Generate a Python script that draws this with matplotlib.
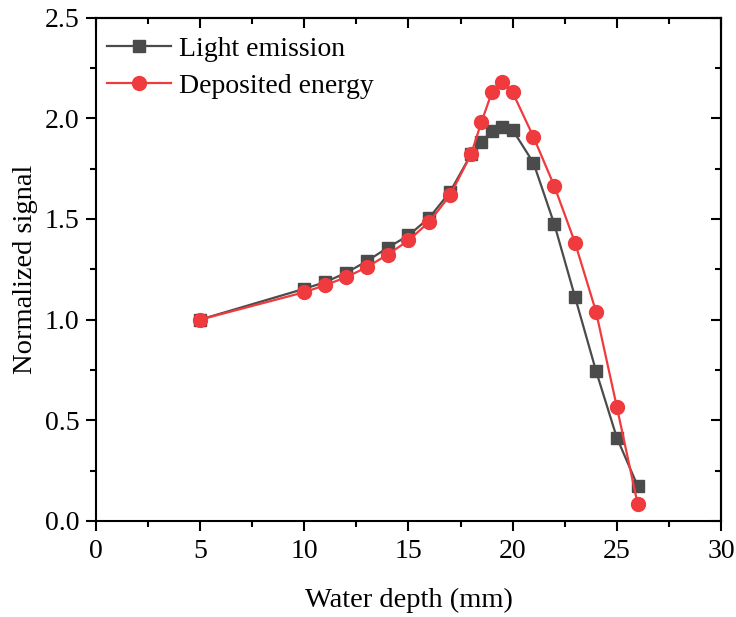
import matplotlib
matplotlib.use("Agg")
import matplotlib.pyplot as plt
from matplotlib.ticker import MultipleLocator, FormatStrFormatter

plt.rcParams['font.family'] = ['Liberation Serif', 'DejaVu Serif']
plt.rcParams['mathtext.fontset'] = 'stix'

depth = [5, 10, 11, 12, 13, 14, 15, 16, 17, 18, 18.5, 19, 19.5, 20, 21, 22, 23, 24, 25, 26]
light = [1.0, 1.153, 1.186, 1.232, 1.29, 1.357, 1.418, 1.506, 1.635, 1.82, 1.882, 1.937, 1.954, 1.942,
         1.778, 1.474, 1.11, 0.746, 0.414, 0.174]
energy = [1.0, 1.136, 1.171, 1.21, 1.26, 1.323, 1.393, 1.486, 1.618, 1.82, 1.98, 2.128, 2.18, 2.128,
          1.907, 1.663, 1.38, 1.04, 0.567, 0.085]

fig = plt.figure(figsize=(7.36, 6.17), dpi=100)
ax = fig.add_axes([0.1304, 0.1556, 0.8492, 0.816])

gray = '#4b4b4b'
red = '#ef3a3e'
ax.plot(depth, light, '-s', color=gray, lw=1.6, ms=9, label='Light emission', zorder=3)
ax.plot(depth, energy, '-o', color=red, lw=1.6, ms=10, label='Deposited energy', zorder=4)

ax.set_xlim(0, 30)
ax.set_ylim(0, 2.5)
ax.xaxis.set_major_locator(MultipleLocator(5))
ax.xaxis.set_minor_locator(MultipleLocator(2.5))
ax.yaxis.set_major_locator(MultipleLocator(0.5))
ax.yaxis.set_minor_locator(MultipleLocator(0.25))
ax.yaxis.set_major_formatter(FormatStrFormatter('%.1f'))

for s in ax.spines.values():
    s.set_linewidth(1.5)
    s.set_color('black')

ax.tick_params(which='major', direction='out', length=7, width=1.5, labelsize=20,
               top=False, right=False)
ax.tick_params(axis='x', which='major', pad=6)
ax.tick_params(axis='y', which='major', pad=5)
ax.tick_params(which='minor', direction='out', length=4, width=1.5, top=False, right=False)

# inward ticks on top and right
axt = ax.secondary_xaxis('top')
axt.xaxis.set_major_locator(MultipleLocator(5))
axt.xaxis.set_minor_locator(MultipleLocator(2.5))
axt.tick_params(which='major', direction='in', length=7, width=1.5, labeltop=False)
axt.tick_params(which='minor', direction='in', length=4, width=1.5)
axt.spines['top'].set_linewidth(1.5)
axr = ax.secondary_yaxis('right')
axr.yaxis.set_major_locator(MultipleLocator(0.5))
axr.yaxis.set_minor_locator(MultipleLocator(0.25))
axr.tick_params(which='major', direction='in', length=7, width=1.5, labelright=False)
axr.tick_params(which='minor', direction='in', length=4, width=1.5)
axr.spines['right'].set_linewidth(1.5)

ax.set_xlabel('Water depth (mm)', fontsize=20.5, labelpad=17)
ax.set_ylabel('Normalized signal', fontsize=20.5, labelpad=4.5)

ax.legend(loc='upper left', bbox_to_anchor=(0.0, 0.985), frameon=False, fontsize=20,
          handlelength=2.3, borderaxespad=0.0, labelspacing=0.42, handletextpad=0.3)

fig.savefig('out.png', dpi=100)
